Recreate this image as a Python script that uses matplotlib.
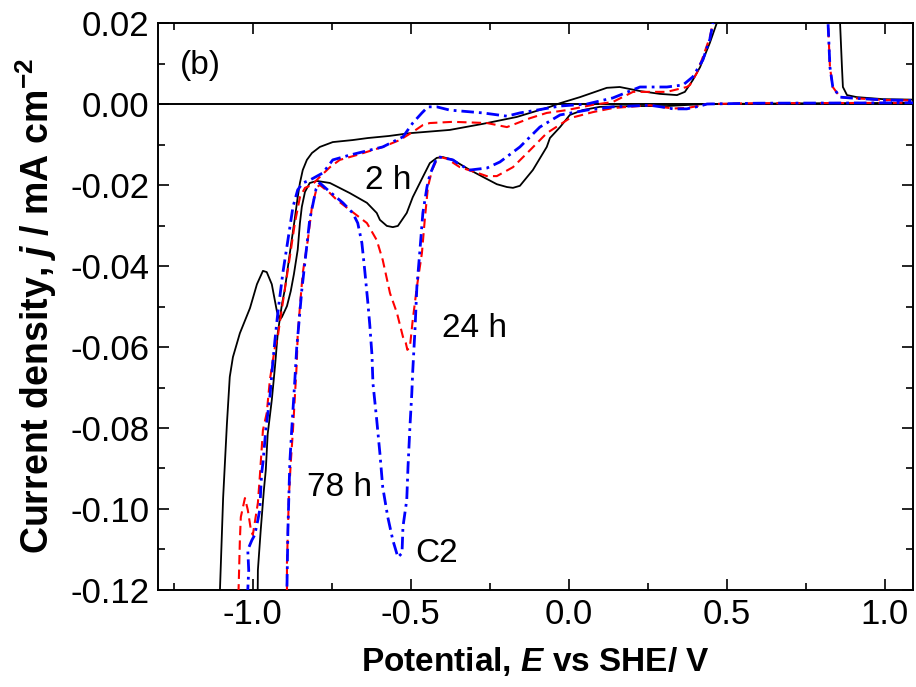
import matplotlib
matplotlib.use("Agg")
import matplotlib.pyplot as plt
from matplotlib.ticker import MultipleLocator

plt.rcParams['font.family'] = ['Liberation Sans', 'DejaVu Sans']
plt.rcParams['mathtext.fontset'] = 'custom'
plt.rcParams['mathtext.rm'] = 'Liberation Sans:bold'
plt.rcParams['mathtext.it'] = 'Liberation Sans:italic:bold'
plt.rcParams['mathtext.bf'] = 'Liberation Sans:bold'

# ---- data: (E / V vs SHE, j / mA cm^-2), traced in drawing order ----
cv_2h = [
    (1.15, 0.0003), (0.80, 0.0002), (0.60, 0.0001), (0.437, 0.0000), (0.383, -0.0002),
    (0.310, -0.0005), (0.203, -0.0005), (0.098, -0.0007), (0.044, -0.0015), (0.003, -0.0027),
    (-0.028, -0.0057), (-0.060, -0.0084), (-0.070, -0.0106), (-0.114, -0.0163), (-0.155, -0.0202),
    (-0.177, -0.0207), (-0.196, -0.0205), (-0.228, -0.0198), (-0.272, -0.0180), (-0.313, -0.0163),
    (-0.367, -0.0138), (-0.399, -0.0131), (-0.418, -0.0133), (-0.440, -0.0146), (-0.462, -0.0180),
    (-0.494, -0.0230), (-0.513, -0.0269), (-0.541, -0.0301), (-0.557, -0.0304), (-0.576, -0.0301),
    (-0.598, -0.0286), (-0.608, -0.0269), (-0.639, -0.0244), (-0.693, -0.0220), (-0.756, -0.0195),
    (-0.797, -0.0190), (-0.820, -0.0195), (-0.835, -0.0217), (-0.845, -0.0254), (-0.851, -0.0294),
    (-0.858, -0.0360), (-0.870, -0.0420), (-0.880, -0.0462), (-0.892, -0.0499), (-0.908, -0.0526),
    (-0.915, -0.0533), (-0.921, -0.0565), (-0.930, -0.0649), (-0.940, -0.0731), (-0.953, -0.0815),
    (-0.959, -0.0904), (-0.965, -0.0953), (-0.975, -0.1052), (-0.984, -0.1151), (-0.985, -0.1250),
    (-1.04, -0.14), (-1.104, -0.125), (-1.104, -0.1200), (-1.094, -0.0973), (-1.082, -0.0790),
    (-1.073, -0.0674), (-1.063, -0.0625), (-1.041, -0.0566), (-1.009, -0.0504), (-0.987, -0.0445),
    (-0.968, -0.0412), (-0.956, -0.0415), (-0.940, -0.0445), (-0.924, -0.0511), (-0.915, -0.0533),
    (-0.908, -0.0495), (-0.899, -0.0459), (-0.889, -0.0402), (-0.877, -0.0336), (-0.867, -0.0282),
    (-0.858, -0.0230), (-0.851, -0.0195), (-0.842, -0.0163), (-0.829, -0.0138), (-0.813, -0.0121),
    (-0.788, -0.0106), (-0.747, -0.0094), (-0.684, -0.0089), (-0.636, -0.0084), (-0.570, -0.0079),
    (-0.503, -0.0072), (-0.377, -0.0064), (-0.272, -0.0049), (-0.165, -0.0032), (-0.123, -0.0022),
    (-0.060, -0.0007), (-0.028, 0.0002), (0.035, 0.0017), (0.120, 0.0040), (0.161, 0.0042),
    (0.225, 0.0032), (0.288, 0.0025), (0.342, 0.0022), (0.367, 0.0030), (0.392, 0.0059),
    (0.415, 0.0091), (0.446, 0.0151), (0.468, 0.0200), (0.49, 0.03), (0.84, 0.03),
    (0.858, 0.0200), (0.864, 0.0091), (0.867, 0.0042), (0.880, 0.0022), (0.911, 0.0017),
    (0.994, 0.0012), (1.15, 0.0010),
]

cv_24h = [
    (1.15, 0.0003), (0.60, 0.0002), (0.437, 0.0000), (0.415, -0.0004), (0.373, -0.0010),
    (0.330, -0.0011), (0.300, -0.0008), (0.256, -0.0003), (0.139, -0.0010), (0.076, -0.0020),
    (0.003, -0.0035), (-0.070, -0.0072), (-0.123, -0.0114), (-0.177, -0.0156), (-0.228, -0.0178),
    (-0.260, -0.0178), (-0.282, -0.0172), (-0.345, -0.0156), (-0.386, -0.0135), (-0.408, -0.0131),
    (-0.418, -0.0138), (-0.433, -0.0163), (-0.446, -0.0205), (-0.456, -0.0286), (-0.465, -0.0368),
    (-0.481, -0.0452), (-0.494, -0.0533), (-0.503, -0.0600), (-0.511, -0.0607), (-0.516, -0.0590),
    (-0.525, -0.0575), (-0.544, -0.0516), (-0.566, -0.0467), (-0.589, -0.0385), (-0.608, -0.0336),
    (-0.639, -0.0294), (-0.684, -0.0267), (-0.734, -0.0237), (-0.756, -0.0220), (-0.788, -0.0200),
    (-0.797, -0.0205), (-0.813, -0.0254), (-0.826, -0.0336), (-0.842, -0.0417), (-0.851, -0.0501),
    (-0.858, -0.0570), (-0.861, -0.0640), (-0.867, -0.0723), (-0.873, -0.0805), (-0.880, -0.0886),
    (-0.886, -0.0970), (-0.889, -0.1052), (-0.892, -0.1133), (-0.892, -0.1250), (-0.95, -0.14),
    (-1.047, -0.125), (-1.044, -0.1168), (-1.041, -0.1077), (-1.038, -0.1020), (-1.025, -0.0973),
    (-1.016, -0.1002), (-1.006, -0.1052), (-1.000, -0.1064), (-0.984, -0.0985), (-0.978, -0.0921),
    (-0.968, -0.0805), (-0.956, -0.0763), (-0.946, -0.0681), (-0.930, -0.0600), (-0.921, -0.0575),
    (-0.915, -0.0541), (-0.899, -0.0459), (-0.883, -0.0378), (-0.867, -0.0294), (-0.851, -0.0230),
    (-0.835, -0.0207), (-0.813, -0.0200), (-0.788, -0.0180), (-0.756, -0.0156), (-0.725, -0.0138),
    (-0.671, -0.0126), (-0.589, -0.0106), (-0.535, -0.0089), (-0.494, -0.0069), (-0.462, -0.0052),
    (-0.440, -0.0047), (-0.367, -0.0044), (-0.259, -0.0047), (-0.196, -0.0057), (-0.123, -0.0035),
    (-0.070, -0.0022), (-0.006, -0.0015), (0.076, -0.0002), (0.139, 0.0005), (0.203, 0.0030),
    (0.310, 0.0030), (0.373, 0.0042), (0.383, 0.0047), (0.405, 0.0077), (0.424, 0.0116),
    (0.446, 0.0165), (0.456, 0.0200), (0.47, 0.03), (0.81, 0.03), (0.820, 0.0200),
    (0.826, 0.0091), (0.835, 0.0042), (0.858, 0.0017), (0.889, 0.0015), (0.994, 0.0010),
    (1.15, 0.0008),
]

cv_78h = [
    (1.15, 0.0003), (0.60, 0.0002), (0.437, 0.0000), (0.415, -0.0005), (0.373, -0.0012),
    (0.330, -0.0012), (0.300, -0.0008), (0.256, -0.0003), (0.139, -0.0007), (0.057, -0.0015),
    (-0.028, -0.0027), (-0.092, -0.0057), (-0.155, -0.0106), (-0.218, -0.0143), (-0.259, -0.0158),
    (-0.313, -0.0163), (-0.345, -0.0150), (-0.367, -0.0138), (-0.408, -0.0131), (-0.418, -0.0133),
    (-0.430, -0.0156), (-0.440, -0.0175), (-0.449, -0.0205), (-0.462, -0.0269), (-0.472, -0.0368),
    (-0.481, -0.0452), (-0.487, -0.0558), (-0.494, -0.0659), (-0.497, -0.0714), (-0.503, -0.0798),
    (-0.509, -0.0896), (-0.513, -0.0978), (-0.525, -0.1044), (-0.528, -0.1109), (-0.541, -0.1119),
    (-0.557, -0.1077), (-0.573, -0.1020), (-0.589, -0.0946), (-0.598, -0.0862), (-0.608, -0.0780),
    (-0.620, -0.0689), (-0.623, -0.0620), (-0.630, -0.0545), (-0.636, -0.0491), (-0.646, -0.0410),
    (-0.655, -0.0343), (-0.668, -0.0294), (-0.684, -0.0269), (-0.715, -0.0244), (-0.756, -0.0217),
    (-0.788, -0.0195), (-0.800, -0.0210), (-0.820, -0.0286), (-0.845, -0.0459), (-0.858, -0.0575),
    (-0.861, -0.0600), (-0.867, -0.0681), (-0.877, -0.0805), (-0.883, -0.0886), (-0.889, -0.1052),
    (-0.892, -0.1193), (-0.893, -0.1250), (-0.95, -0.14), (-1.016, -0.125), (-1.016, -0.1200),
    (-1.013, -0.1151), (-1.016, -0.1101), (-1.003, -0.1077), (-0.994, -0.1064), (-0.984, -0.1027),
    (-0.978, -0.1002), (-0.975, -0.0953), (-0.972, -0.0911), (-0.968, -0.0886), (-0.959, -0.0805),
    (-0.946, -0.0723), (-0.937, -0.0640), (-0.930, -0.0583), (-0.921, -0.0516), (-0.905, -0.0417),
    (-0.889, -0.0336), (-0.873, -0.0254), (-0.858, -0.0212), (-0.842, -0.0195), (-0.820, -0.0188),
    (-0.778, -0.0170), (-0.747, -0.0138), (-0.693, -0.0126), (-0.589, -0.0106), (-0.525, -0.0081),
    (-0.494, -0.0047), (-0.465, -0.0022), (-0.446, -0.0007), (-0.418, -0.0007), (-0.377, -0.0015),
    (-0.272, -0.0022), (-0.196, -0.0030), (-0.155, -0.0022), (-0.101, -0.0015), (-0.028, -0.0005),
    (0.057, 0.0000), (0.139, 0.0015), (0.225, 0.0042), (0.310, 0.0042), (0.361, 0.0047),
    (0.392, 0.0067), (0.424, 0.0109), (0.446, 0.0160), (0.456, 0.0200), (0.47, 0.03),
    (0.81, 0.03), (0.820, 0.0200), (0.826, 0.0091), (0.835, 0.0042), (0.858, 0.0017),
    (0.889, 0.0015), (0.994, 0.0010), (1.15, 0.0008),
]

labels = ["2 h", "24 h", "78 h", "C2", "(b)"]
label_pos = [(-0.573, -0.0189), (-0.299, -0.0554), (-0.726, -0.0947), (-0.419, -0.1110)]

xlim = (-1.30, 1.089)
ylim = (-0.12, 0.02)

fig = plt.figure(figsize=(9.16, 6.87), dpi=100)
ax = fig.add_axes([0.1725, 0.1412, 0.8243, 0.8253])

ax.axhline(0.0, color='black', lw=1.4, zorder=2)

def unpack(pts):
    return [p[0] for p in pts], [p[1] for p in pts]

x, y = unpack(cv_2h)
ax.plot(x, y, color='black', lw=1.3, zorder=3)
x, y = unpack(cv_24h)
ax.plot(x, y, color='#ff0000', lw=1.5, dashes=(4.5, 2.5), zorder=4)
x, y = unpack(cv_78h)
ax.plot(x, y, color='#0000ff', lw=2.0, dashes=(4.5, 1.8, 1.0, 1.8), zorder=5)

fs = 24
for txt, (ex, jy) in zip(labels[:4], label_pos):
    ax.text(ex, jy, txt, fontsize=fs, ha='center', va='center', zorder=6)
ax.text(-1.231, 0.0096, labels[4], fontsize=fs, ha='left', va='center')

ax.set_xlim(*xlim)
ax.set_ylim(*ylim)
ax.xaxis.set_major_locator(MultipleLocator(0.5))
ax.xaxis.set_minor_locator(MultipleLocator(0.25))
ax.yaxis.set_major_locator(MultipleLocator(0.02))
ax.yaxis.set_minor_locator(MultipleLocator(0.01))
ax.xaxis.set_major_formatter(plt.FuncFormatter(lambda v, p: f"{v:.1f}"))
ax.yaxis.set_major_formatter(plt.FuncFormatter(lambda v, p: f"{v:.2f}"))
ax.tick_params(which='both', direction='in', top=True, right=True, width=1.2)
ax.tick_params(which='major', length=8, labelsize=25, pad=6)
ax.tick_params(which='minor', length=5)
for s in ax.spines.values():
    s.set_linewidth(1.4)

ax.set_xlabel(r'Potential, $\mathit{E}$ vs SHE/ V', fontsize=24, fontweight='bold', labelpad=10)
ax.set_ylabel(r'Current density, $\mathit{j}$ / mA cm$^{\mathbf{-2}}$', fontsize=27,
              fontweight='bold', labelpad=8)

fig.savefig('out.png', dpi=100)
